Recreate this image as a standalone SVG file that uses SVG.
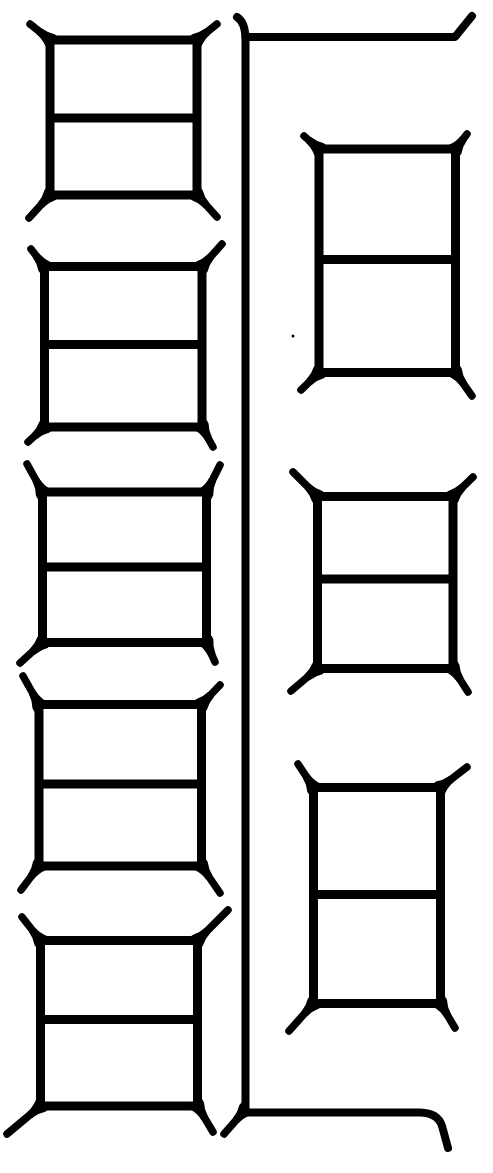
<svg xmlns="http://www.w3.org/2000/svg" width="493" height="1173" viewBox="0 0 493 1173">
<style>
.box{fill:none;stroke:#000;stroke-width:9;stroke-linejoin:miter}
.bar{stroke:#000;stroke-width:9;stroke-linecap:butt}
.spur{fill:none;stroke:#000;stroke-width:7.5;stroke-linecap:round;marker-start:url(#flare)}
.frame{fill:none;stroke:#000;stroke-width:8;stroke-linecap:round;stroke-linejoin:round}
</style>
<defs>
<marker id="flare" markerUnits="userSpaceOnUse" orient="auto" viewBox="-4 -10 24 20" refX="0" refY="0" markerWidth="24" markerHeight="20" overflow="visible">
<path d="M-4,-7.5 L0,-7.5 Q6,-4.2 14,-3.7 L14,3.7 Q6,4.2 0,7.5 L-4,7.5 Z" fill="#000"/>
</marker>
</defs>
<rect width="493" height="1173" fill="#fff"/>

<g id="frame">
<path class="frame" d="M237,17 Q245,22 245.5,38 L245.5,1112.5 L420,1112.5 Q438,1113 442,1126 L448,1148"/>
<path class="frame" d="M245.5,37 L455,37 L472,16"/>
<path class="spur" d="M245,1110 L224,1134"/>
</g>

<g id="left-1">
<rect class="box" x="50" y="40" width="147" height="155"/>
<line class="bar" x1="50" y1="118" x2="197" y2="118"/>
<path class="spur" d="M50,40 L30,24"/>
<path class="spur" d="M197,40 L217,24"/>
<path class="spur" d="M50,195 L29,218"/>
<path class="spur" d="M197,195 L217,217"/>
</g>

<g id="left-2">
<rect class="box" x="44.5" y="266.5" width="157.5" height="160.5"/>
<line class="bar" x1="44.5" y1="344.5" x2="202" y2="344.5"/>
<path class="spur" d="M44.5,266.5 L31,249"/>
<path class="spur" d="M202,266.5 L222,244"/>
<path class="spur" d="M44.5,427 L28,442"/>
<path class="spur" d="M202,427 L213,447"/>
</g>

<g id="left-3">
<rect class="box" x="42.5" y="492" width="164" height="150.5"/>
<line class="bar" x1="42.5" y1="567" x2="206.5" y2="567"/>
<path class="spur" d="M42.5,492 L27,464"/>
<path class="spur" d="M206.5,492 L220,465"/>
<path class="spur" d="M42.5,642.5 L20,663"/>
<path class="spur" d="M206.5,642.5 L215,662"/>
</g>

<g id="left-4">
<rect class="box" x="39" y="704.5" width="162.5" height="161.5"/>
<line class="bar" x1="39" y1="784" x2="201.5" y2="784"/>
<path class="spur" d="M39,704.5 L23,676"/>
<path class="spur" d="M201.5,704.5 L220,685"/>
<path class="spur" d="M39,866 L21,890"/>
<path class="spur" d="M201.5,866 L220,893"/>
</g>

<g id="left-5">
<rect class="box" x="40.5" y="940.5" width="157" height="165.5"/>
<line class="bar" x1="40.5" y1="1019.5" x2="197.5" y2="1019.5"/>
<path class="spur" d="M40.5,940.5 L22,917"/>
<path class="spur" d="M197.5,940.5 L228,910"/>
<path class="spur" d="M40.5,1106 L7,1134"/>
<path class="spur" d="M197.5,1106 L213,1132"/>
</g>

<g id="right-1">
<rect class="box" x="319" y="149" width="136.5" height="223.5"/>
<line class="bar" x1="319" y1="259.5" x2="455.5" y2="259.5"/>
<path class="spur" d="M319,149 L304,136"/>
<path class="spur" d="M455.5,149 L467,134"/>
<path class="spur" d="M319,372.5 L301,390"/>
<path class="spur" d="M455.5,372.5 L472,396"/>
</g>

<g id="right-2">
<rect class="box" x="317.5" y="496.5" width="135.5" height="172"/>
<line class="bar" x1="317.5" y1="579" x2="453" y2="579"/>
<path class="spur" d="M317.5,496.5 L293,472"/>
<path class="spur" d="M453,496.5 L473,477"/>
<path class="spur" d="M317.5,668.5 L291,691"/>
<path class="spur" d="M453,668.5 L468,692"/>
</g>

<g id="right-3">
<rect class="box" x="313.5" y="787.5" width="127" height="216"/>
<line class="bar" x1="313.5" y1="894.5" x2="440.5" y2="894.5"/>
<path class="spur" d="M313.5,787.5 L298,764"/>
<path class="spur" d="M440.5,787.5 L467,767"/>
<path class="spur" d="M313.5,1003.5 L289,1031"/>
<path class="spur" d="M440.5,1003.5 L455,1028"/>
</g>

<circle cx="293" cy="336" r="1.5" fill="#000"/>
</svg>
